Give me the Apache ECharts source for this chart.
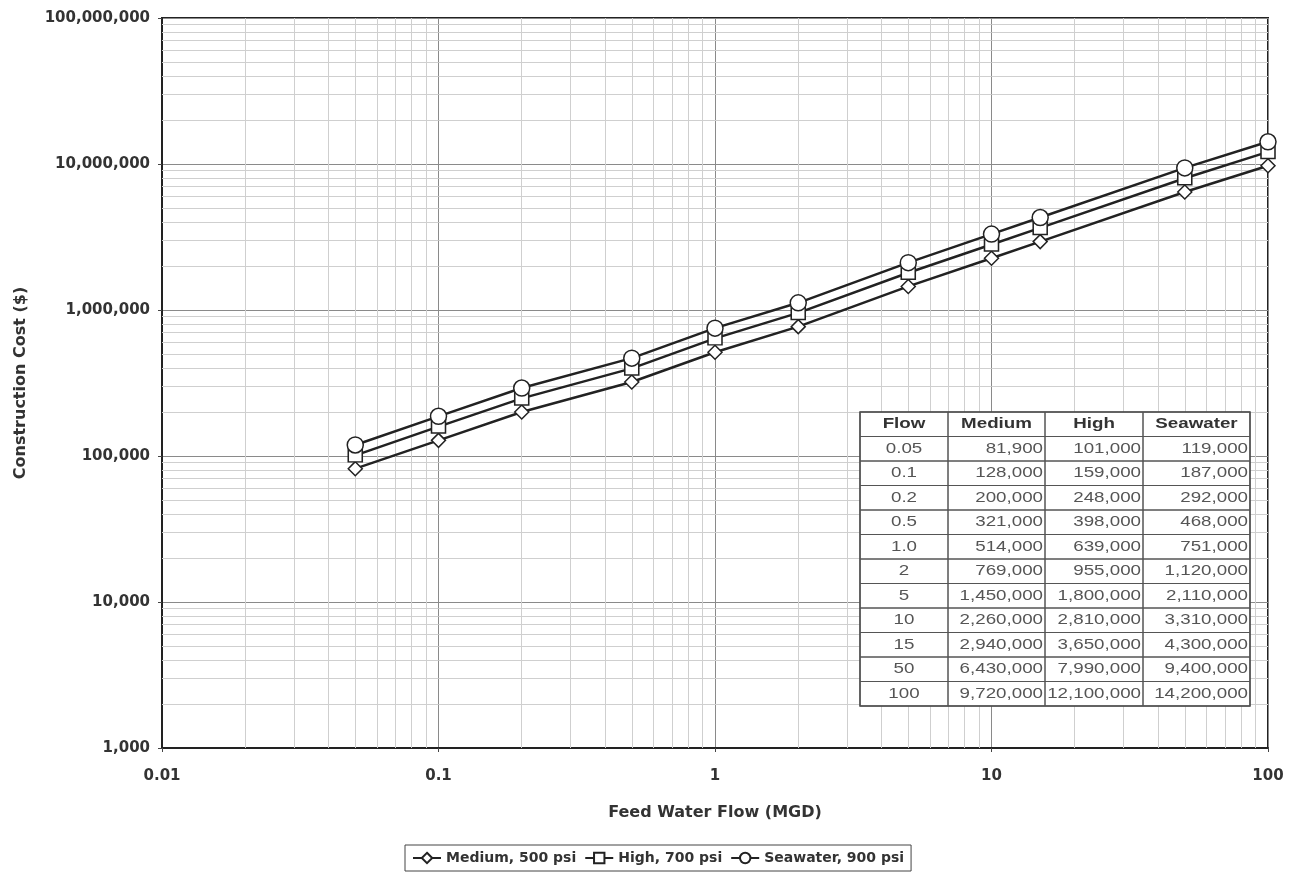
<!DOCTYPE html>
<html><head><meta charset="utf-8">
<script src="https://cdn.jsdelivr.net/npm/echarts@6/dist/echarts.min.js"></script>
<style>html,body{margin:0;background:#fff}#c{width:1292px;height:874px}</style>
</head><body><div id="c"></div>
<script>
const flow = [0.05, 0.1, 0.2, 0.5, 1, 2, 5, 10, 15, 50, 100];
const flowLabels = ['0.05', '0.1', '0.2', '0.5', '1.0', '2', '5', '10', '15', '50', '100'];
const medium = [81900, 128000, 200000, 321000, 514000, 769000, 1450000, 2260000, 2940000, 6430000, 9720000];
const high = [101000, 159000, 248000, 398000, 639000, 955000, 1800000, 2810000, 3650000, 7990000, 12100000];
const seawater = [119000, 187000, 292000, 468000, 751000, 1120000, 2110000, 3310000, 4300000, 9400000, 14200000];
const seriesNames = ['Medium, 500 psi', 'High, 700 psi', 'Seawater, 900 psi'];
const seriesSymbols = ['diamond', 'rect', 'circle'];
const tableHeaders = ['Flow', 'Medium', 'High', 'Seawater'];
const xDecades = [0.01, 0.1, 1, 10];
const yDecades = [1e3, 1e4, 1e5, 1e6, 1e7];
const minorMults = [2, 3, 4, 5, 6, 7, 8, 9];

const fmt = v => Number(v).toLocaleString('en-US');
const AXFONT = 'DejaVu Sans, Verdana, sans-serif';
const TFONT = 'Liberation Sans, Arial, sans-serif';

const minorLines = [];
xDecades.forEach(d => minorMults.forEach(m => minorLines.push({ xAxis: +(d * m).toPrecision(3) })));
yDecades.forEach(d => minorMults.forEach(m => minorLines.push({ yAxis: d * m })));

const allData = [medium, high, seawater];
const symSizes = [[14, 14], [14, 13], [16, 16]];
const series = allData.map((arr, i) => ({
  name: seriesNames[i],
  type: 'line',
  data: flow.map((f, j) => [f, arr[j]]),
  symbol: seriesSymbols[i],
  symbolSize: symSizes[i],
  showAllSymbol: true,
  lineStyle: { color: '#222', width: 2.5 },
  itemStyle: { color: '#fff', borderColor: '#222', borderWidth: 1.5 },
  z: 5
}));
series.push({
  type: 'line', data: [], silent: true, z: 1,
  markLine: {
    silent: true, symbol: ['none', 'none'], label: { show: false },
    lineStyle: { color: '#cfcfcf', width: 1, type: 'solid' },
    data: minorLines, animation: false
  }
});

// table graphic
const tblLeft = 860, tblTop = 412, colW = [88, 97, 98, 107], rowH = 24.5;
const rows = [tableHeaders].concat(flowLabels.map((f, j) => [f, fmt(medium[j]), fmt(high[j]), fmt(seawater[j])]));
const tableEls = [];
const totalW = colW.reduce((a, b) => a + b, 0);
tableEls.push({ type: 'rect', shape: { x: tblLeft, y: tblTop, width: totalW, height: rowH * rows.length }, style: { fill: '#fff', stroke: '#444', lineWidth: 1.5 }, z: 100 });
rows.forEach((r, ri) => {
  let x = tblLeft;
  r.forEach((txt, ci) => {
    const y = tblTop + ri * rowH;
    tableEls.push({ type: 'rect', shape: { x: x, y: y, width: colW[ci], height: rowH }, style: { fill: 'none', stroke: '#555', lineWidth: 1 }, z: 101 });
    const center = ri === 0 || ci === 0;
    const ax = center ? x + colW[ci] / 2 : x + colW[ci] - 2;
    const ay = y + rowH / 2;
    tableEls.push({ type: 'text', z: 102, x: ax, y: ay, scaleX: 1.25, scaleY: 1,
      style: { text: txt, x: 0, y: 0,
        textAlign: center ? 'center' : 'right', textVerticalAlign: 'middle',
        font: (ri === 0 ? 'bold ' : '') + '15px ' + TFONT, fill: ri === 0 ? '#333' : '#555' } });
    x += colW[ci];
  });
});

const chart = echarts.init(document.getElementById('c'));
chart.setOption({
  animation: false,
  backgroundColor: '#fff',
  grid: { left: 162, right: 24, top: 18, bottom: 126, show: true, borderColor: '#222', borderWidth: 2, backgroundColor: 'transparent' },
  legend: {
    top: 845, left: 405, data: seriesNames,
    borderColor: '#444', borderWidth: 1, padding: [6, 7, 6, 7], itemGap: 8, itemWidth: 28, itemHeight: 13,
    textStyle: { fontFamily: AXFONT, fontWeight: 'bold', fontSize: 14, color: '#333' }
  },
  xAxis: {
    type: 'log', logBase: 10, min: 0.01, max: 100,
    name: 'Feed Water Flow (MGD)', nameLocation: 'middle', nameGap: 57,
    nameTextStyle: { fontFamily: AXFONT, fontWeight: 'bold', fontSize: 16, color: '#333' },
    axisLine: { lineStyle: { color: '#222', width: 2 } },
    axisTick: { show: true, length: 4, lineStyle: { color: '#444' } },
    axisLabel: { margin: 21, fontFamily: AXFONT, fontWeight: 'bold', fontSize: 15, color: '#333',
      formatter: v => { const m = { 0.01: '0.01', 0.1: '0.1', 1: '1', 10: '10', 100: '100' }; const k = Object.keys(m).find(kk => Math.abs(kk - v) < 1e-9 * Math.max(1, v)); return k ? m[k] : ''; } },
    splitLine: { show: true, lineStyle: { color: '#8a8a8a', width: 1 } }
  },
  yAxis: {
    type: 'log', logBase: 10, min: 1000, max: 100000000,
    name: 'Construction Cost ($)', nameLocation: 'middle', nameGap: 133, nameRotate: 90,
    nameTextStyle: { fontFamily: AXFONT, fontWeight: 'bold', fontSize: 16, color: '#333' },
    axisLine: { lineStyle: { color: '#222', width: 2 } },
    axisTick: { show: true, length: 4, lineStyle: { color: '#444' } },
    axisLabel: { margin: 12, fontFamily: AXFONT, fontWeight: 'bold', fontSize: 15, color: '#333',
      formatter: v => fmt(Math.round(v)) },
    splitLine: { show: true, lineStyle: { color: '#8a8a8a', width: 1 } }
  },
  series: series,
  graphic: tableEls
});
</script></body></html>
